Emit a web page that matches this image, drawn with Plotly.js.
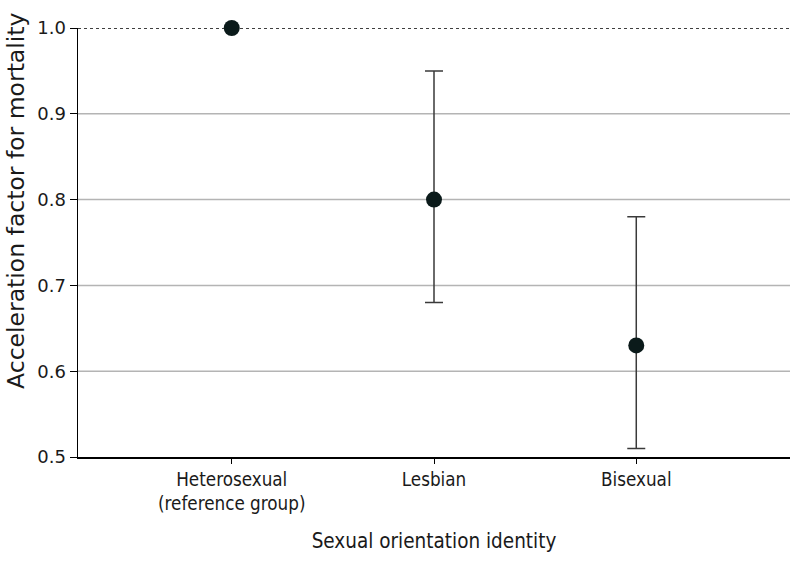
<!DOCTYPE html>
<html>
<head>
<meta charset="utf-8">
<script src="https://cdn.plot.ly/plotly-3.0.1.min.js"></script>
<style>html,body{margin:0;padding:0;background:#fff;}#chart{width:794px;height:567px;}</style>
</head>
<body>
<div id="chart"></div>
<script>
var categories = ["Heterosexual<br>(reference group)", "Lesbian", "Bisexual"];
var estimates = [1.0, 0.80, 0.63];
var ciLower = [null, 0.68, 0.51];
var ciUpper = [null, 0.95, 0.78];
var yTicks = [0.5, 0.6, 0.7, 0.8, 0.9, 1.0];
var yTickLabels = ["0.5", "0.6", "0.7", "0.8", "0.9", "1.0"];
var gridValues = [0.6, 0.7, 0.8, 0.9];
var referenceValue = 1.0;
var xTitle = 'Sexual orientation identity';
var yTitle = 'Acceleration factor for mortality';

var xpos = categories.map(function(_, i){ return i; });
var plus = estimates.map(function(v, i){ return ciUpper[i] == null ? 0 : ciUpper[i] - v; });
var minus = estimates.map(function(v, i){ return ciLower[i] == null ? 0 : v - ciLower[i]; });
var visibleErr = estimates.map(function(v, i){ return ciUpper[i] != null; });

var errTrace = {
  x: xpos.filter(function(_, i){ return visibleErr[i]; }),
  y: estimates.filter(function(_, i){ return visibleErr[i]; }),
  type: 'scatter', mode: 'markers',
  marker: {size: 1, color: 'rgba(0,0,0,0)'},
  error_y: {type: 'data', symmetric: false,
    array: plus.filter(function(_, i){ return visibleErr[i]; }),
    arrayminus: minus.filter(function(_, i){ return visibleErr[i]; }),
    color: '#3a3a3a', thickness: 1.5, width: 9},
  cliponaxis: false, hoverinfo: 'skip', showlegend: false
};
var ptTrace = {
  x: xpos, y: estimates, type: 'scatter', mode: 'markers',
  marker: {size: 16, color: '#0b1a1a'},
  cliponaxis: false, showlegend: false
};

var shapes = gridValues.map(function(v){
  return {type: 'line', xref: 'paper', x0: 0, x1: 1, yref: 'y', y0: v, y1: v,
    line: {color: '#b4b4b4', width: 1.5}, layer: 'below'};
});
shapes.push({type: 'line', xref: 'paper', x0: 0, x1: 1, yref: 'y', y0: referenceValue, y1: referenceValue,
  line: {color: '#000', width: 1.5, dash: 'dot'}, layer: 'below'});

var cond = "'DejaVu Sans Condensed', 'DejaVu Sans', sans-serif";
var wide = "'DejaVu Sans', sans-serif";
var layout = {
  width: 794, height: 567,
  margin: {l: 78, r: 4, t: 28, b: 110},
  paper_bgcolor: '#fff', plot_bgcolor: '#fff',
  font: {family: cond, size: 18, color: '#1a1a1a'},
  showlegend: false,
  xaxis: {
    range: [-0.76, 2.76], tickvals: xpos, ticktext: categories,
    showgrid: false, zeroline: false, showline: true, linecolor: '#000', linewidth: 1.5,
    ticks: 'outside', ticklen: 5, tickcolor: '#000', tickwidth: 1,
    tickfont: {family: cond, size: 18.7, color: '#1a1a1a'},
    title: {text: xTitle, font: {family: cond, size: 20.5, color: '#1a1a1a'}, standoff: 20},
    fixedrange: true
  },
  yaxis: {
    range: [0.5, 1.0], tickvals: yTicks, ticktext: yTickLabels,
    showgrid: false, zeroline: false, showline: true, linecolor: '#000', linewidth: 1.5,
    ticks: 'outside', ticklen: 7, tickcolor: '#000', tickwidth: 1,
    tickfont: {family: wide, size: 18, color: '#1a1a1a'},
    fixedrange: true
  },
  annotations: [{
    text: yTitle, textangle: -90, showarrow: false,
    xref: 'paper', x: 0, xshift: -62, xanchor: 'center',
    yref: 'paper', y: 0.597, yanchor: 'middle',
    font: {family: wide, size: 23.5, color: '#1a1a1a'}
  }],
  shapes: shapes
};
Plotly.newPlot('chart', [errTrace, ptTrace], layout, {displayModeBar: false, staticPlot: true});
</script>
</body>
</html>
